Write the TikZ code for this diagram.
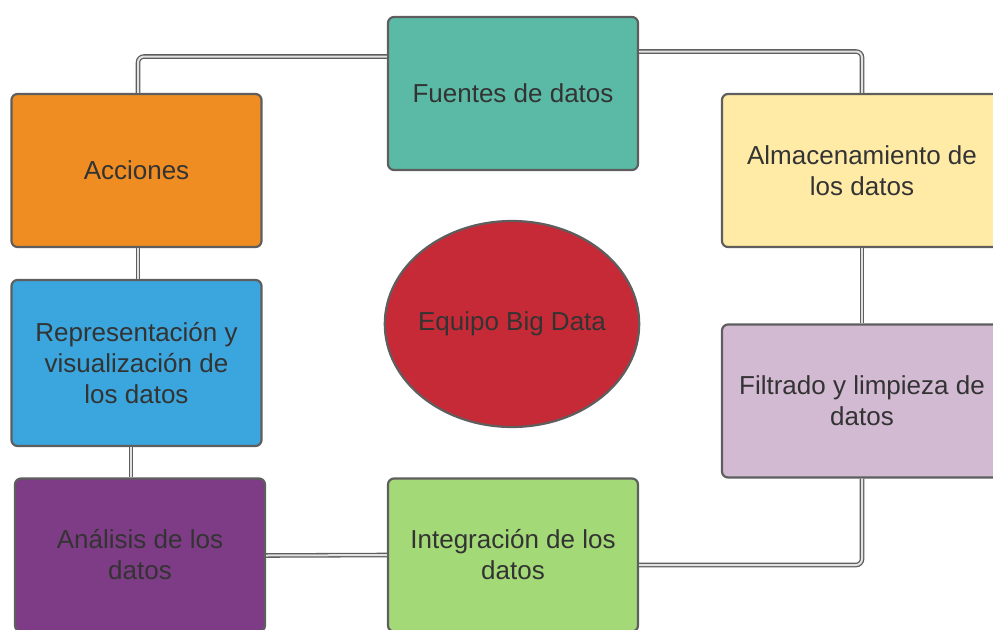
\documentclass[tikz,border=0pt]{standalone}
\usepackage{fontspec}
\setmainfont{Liberation Sans}
\usepackage{xcolor}
\usetikzlibrary{calc,shapes.geometric}
\definecolor{edge}{HTML}{5E5E5E}
\definecolor{txt}{HTML}{333333}
\definecolor{linkin}{HTML}{E2E2E2}
\definecolor{teal}{HTML}{5BBAA6}
\definecolor{orange}{HTML}{EF8D22}
\definecolor{cream}{HTML}{FFEBA6}
\definecolor{sky}{HTML}{3AA6DD}
\definecolor{lilac}{HTML}{D3BAD3}
\definecolor{plum}{HTML}{7E3C86}
\definecolor{lime}{HTML}{A3D977}
\definecolor{crimson}{HTML}{C62A37}
\tikzset{
  box/.style={draw=edge, line width=2.2pt, rounded corners=6pt, text=txt,
    minimum width=250pt, minimum height=153pt, align=center,
    font=\fontsize{26}{31}\selectfont},
  wide/.style={box, minimum width=280pt},
  core/.style={ellipse, draw=edge, line width=2.2pt, fill=crimson, text=txt,
    minimum height=206pt, inner xsep=-4pt, inner ysep=0pt,
    font=\fontsize{26}{31}\selectfont},
  link/.style={draw=edge, line width=1.3pt, double=linkin, double distance=2pt,
    rounded corners=6pt}
}

\begin{document}
\begin{tikzpicture}[x=1pt,y=-1pt]
  \useasboundingbox (0,0) rectangle (993,629);
  \clip (0,0) rectangle (993,629);

  % boxes
  \node[box,fill=teal]   (fuentes) at (513,93.5)  {Fuentes de datos};
  \node[box,fill=orange] (acciones) at (136.5,170.5) {Acciones};
  \node[wide,fill=cream] (almacen) at (862,170.5) {Almacenamiento de\\los datos};
  \node[box,fill=sky,minimum height=166pt] (repres) at (136.5,363) {Representación y\\visualización de\\los datos};
  \node[wide,fill=lilac] (filtrado) at (862,401) {Filtrado y limpieza de\\datos};
  \node[box,fill=plum]   (analisis) at (140,555) {Análisis de los\\datos};
  \node[box,fill=lime]   (integra) at (513,555) {Integración de los\\datos};
  \node[core] (equipo) at (512,324) {Equipo Big Data};

  % connectors
  \draw[link] ([yshift=37pt]fuentes.west) -| ([xshift=1.5pt]acciones.north);
  \draw[link] ([yshift=42pt]fuentes.east) -| (almacen.north);
  \draw[link] ([xshift=1.5pt]acciones.south) -- ([xshift=1.5pt]repres.north);
  \draw[link] ([xshift=-5.5pt]repres.south) -- ([xshift=-9pt]analisis.north);
  \draw[link] ([yshift=-0.5pt]analisis.east) -- (integra.west |- analisis.east);
  \draw[link] ([yshift=-10pt]integra.east) -| (filtrado.south);
  \draw[link] (almacen.south) -- (filtrado.north);
\end{tikzpicture}
\end{document}
